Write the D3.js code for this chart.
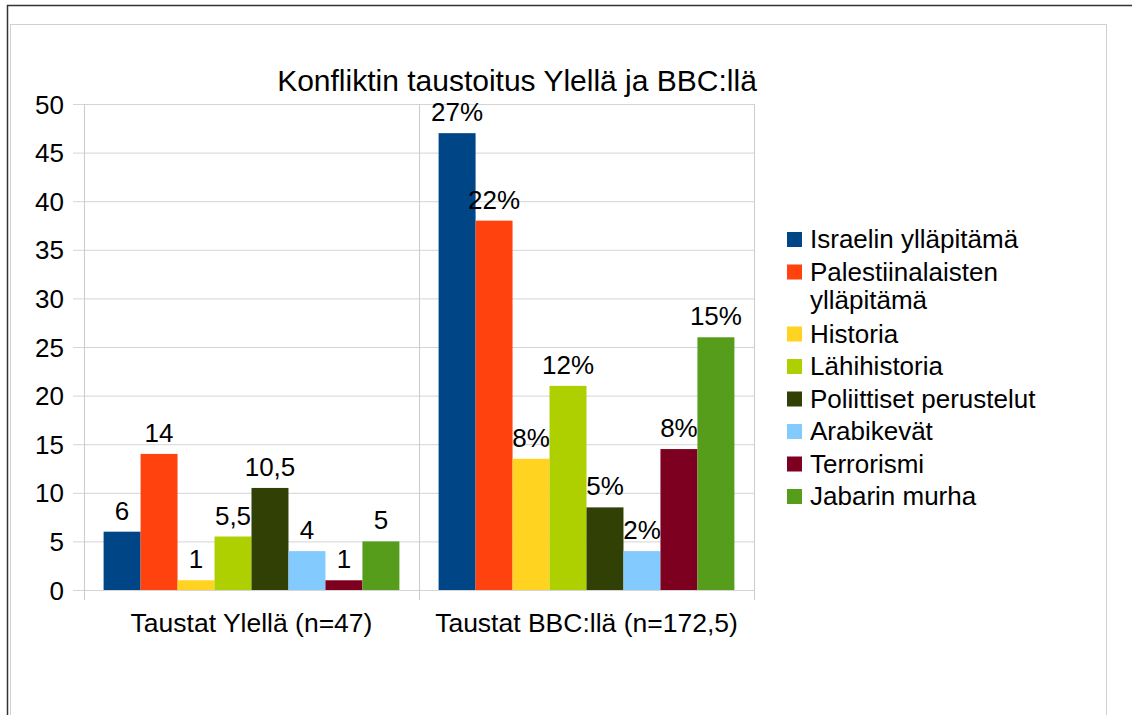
<!DOCTYPE html>
<html>
<head>
<meta charset="utf-8">
<script src="https://cdn.jsdelivr.net/npm/d3@7"></script>
<style>
  body { margin: 0; background: #fff; }
  svg text { font-family: "Liberation Sans", Arial, sans-serif; fill: #000; }
</style>
</head>
<body>
<div id="viz"></div>
<script>
const title = "Konfliktin taustoitus Ylellä ja BBC:llä";
const categories = ["Taustat Ylellä (n=47)", "Taustat BBC:llä (n=172,5)"];
const series = ["Israelin ylläpitämä", "Palestiinalaisten ylläpitämä", "Historia", "Lähihistoria",
                "Poliittiset perustelut", "Arabikevät", "Terrorismi", "Jabarin murha"];
const legendLines = [["Israelin ylläpitämä"], ["Palestiinalaisten", "ylläpitämä"], ["Historia"], ["Lähihistoria"],
                     ["Poliittiset perustelut"], ["Arabikevät"], ["Terrorismi"], ["Jabarin murha"]];
const colors = ["#004586", "#ff420e", "#ffd320", "#aecf00", "#314004", "#83caff", "#7e0021", "#579d1c"];
const yleValues = [6, 14, 1, 5.5, 10.5, 4, 1, 5];
const bbcValues = [47, 38, 13.5, 21, 8.5, 4, 14.5, 26];
const yleLabels = ["6", "14", "1", "5,5", "10,5", "4", "1", "5"];
const bbcLabels = ["27%", "22%", "8%", "12%", "5%", "2%", "8%", "15%"];
const yTicks = [0, 5, 10, 15, 20, 25, 30, 35, 40, 45, 50];

const W = 1132, H = 715;
const plot = {left: 84, right: 754, top: 104, bottom: 590};
const fs = "26px";

const svg = d3.select("#viz").append("svg")
    .attr("width", W).attr("height", H);

// page frame
svg.append("rect").attr("x", 10.5).attr("y", 24.5).attr("width", 1096).attr("height", 720)
    .attr("fill", "none").attr("stroke", "#d0d0d0");
svg.append("path").attr("d", `M7.5,${H}V5.5H${W}`)
    .attr("fill", "none").attr("stroke", "#333").attr("stroke-width", 1.5);

const groups = categories.map((c, i) => ({
    cat: c,
    values: [yleValues, bbcValues][i],
    labels: [yleLabels, bbcLabels][i]
}));

const x0 = d3.scaleBand().domain(categories).range([plot.left, plot.right]);
const x1 = d3.scaleBand().domain(series).range([0, x0.bandwidth()]).paddingOuter(0.53);
const y = d3.scaleLinear().domain([0, 50]).range([plot.bottom, plot.top]);

// grid
svg.append("g").selectAll("line").data(yTicks).enter().append("line")
    .attr("x1", plot.left - 11).attr("x2", plot.right)
    .attr("y1", d => y(d) + 0.5).attr("y2", d => y(d) + 0.5)
    .attr("stroke", "#d4d4d4");

// vertical separators and y axis
const seps = [plot.left].concat(categories.map(c => x0(c) + x0.bandwidth()));
svg.append("g").selectAll("line").data(seps).enter().append("line")
    .attr("x1", d => d + 0.5).attr("x2", d => d + 0.5)
    .attr("y1", plot.top).attr("y2", plot.bottom + 10)
    .attr("stroke", "#cccccc");

// y labels
const yAxis = svg.append("g")
    .attr("transform", `translate(${plot.left - 11},0)`)
    .call(d3.axisLeft(y).tickValues(yTicks).tickSize(0).tickPadding(9));
yAxis.select(".domain").remove();
yAxis.selectAll("text").style("font-size", fs).attr("dy", "0.35em");

// x labels
svg.append("g").selectAll("text").data(categories).enter().append("text")
    .attr("x", d => x0(d) + x0.bandwidth() / 2)
    .attr("y", 632)
    .attr("text-anchor", "middle")
    .style("font-size", "26.5px")
    .text(d => d);

// bars
const g = svg.append("g").selectAll("g").data(groups).enter().append("g")
    .attr("transform", d => `translate(${x0(d.cat)},0)`);

g.selectAll("rect").data(d => d.values.map((v, i) => ({v: v, i: i})))
    .enter().append("rect")
    .attr("x", d => x1(series[d.i]))
    .attr("width", x1.bandwidth())
    .attr("y", d => y(d.v))
    .attr("height", d => y(0) - y(d.v))
    .attr("fill", d => colors[d.i]);

g.selectAll("text").data(d => d.values.map((v, i) => ({v: v, i: i, label: d.labels[i]})))
    .enter().append("text")
    .attr("x", d => x1(series[d.i]) + x1.bandwidth() / 2)
    .attr("y", d => y(d.v) - 12)
    .attr("text-anchor", "middle")
    .style("font-size", fs)
    .text(d => d.label);

// title
svg.append("text")
    .attr("x", 517).attr("y", 91)
    .attr("text-anchor", "middle")
    .style("font-size", "30px")
    .text(title);

// legend
let ly = 232;
legendLines.forEach((lines, i) => {
    svg.append("rect").attr("x", 787).attr("y", ly).attr("width", 15).attr("height", 15)
        .attr("fill", colors[i]);
    lines.forEach((t, j) => {
        svg.append("text").attr("x", 810).attr("y", ly + 16 + j * 28.5)
            .style("font-size", fs).text(t);
    });
    ly += 32.5 + (lines.length - 1) * 29.5;
});
</script>
</body>
</html>
